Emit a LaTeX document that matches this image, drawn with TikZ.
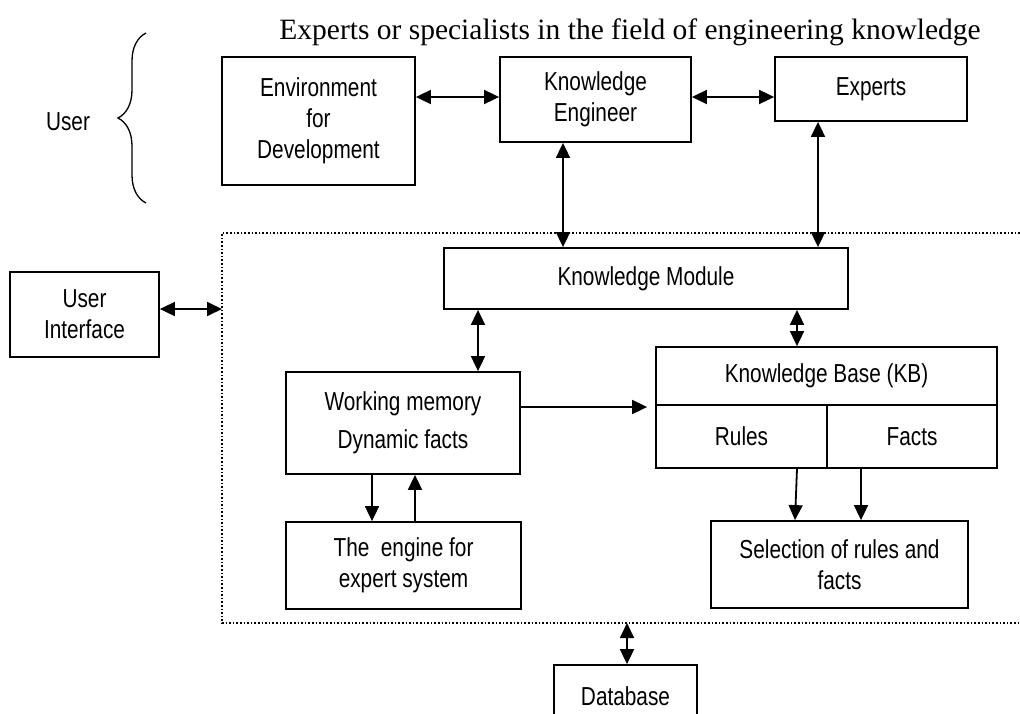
\documentclass[tikz,border=0pt]{standalone}
\usepackage{fontspec}
\setmainfont{Liberation Serif}
\newfontfamily\narrowsans{Liberation Sans}[FakeStretch=0.80]
\usetikzlibrary{arrows.meta,decorations.pathreplacing}
\begin{document}
\begin{tikzpicture}[
  x=1pt, y=-1pt,
  box/.style={rectangle, draw, line width=1.8pt, inner sep=0pt, align=center,
    font=\narrowsans\fontsize{26}{31}\selectfont},
  arr/.style={-{Triangle[length=15pt,width=14pt]}, line width=1.8pt},
  darr/.style={{Triangle[length=15pt,width=14pt]}-{Triangle[length=15pt,width=14pt]}, line width=1.8pt},
  frame/.style={line width=1.6pt, dash pattern=on 1.6pt off 2pt}
]
\useasboundingbox (0,0) rectangle (1020,713);

\node[font=\fontsize{29.5}{34}\selectfont] (title) at (630,32) {Experts or specialists in the field of engineering knowledge};
\node[font=\narrowsans\fontsize{26}{31}\selectfont] (user) at (68,122) {User};
\draw[line width=1.3pt, decorate, decoration={brace, amplitude=28pt}] (146,203) -- (146,33);

\node[box, minimum width=193pt, minimum height=128pt] (env) at (318.5,121) {Environment\\for\\Development};
\node[box, minimum width=191pt, minimum height=85pt] (ke) at (595.5,99.5) {Knowledge\\Engineer};
\node[box, minimum width=192pt, minimum height=64pt] (exp) at (871,89) {Experts};

\node[box, minimum width=404pt, minimum height=61pt] (km) at (646,278.5) {Knowledge Module};
\node[box, minimum width=149pt, minimum height=85pt] (ui) at (84.5,314.5) {User\\Interface};
\node[box, minimum width=234pt, minimum height=102pt, font=\narrowsans\fontsize{26}{38}\selectfont] (wm) at (403,423) {Working memory\\Dynamic facts};
\node[box, minimum width=341pt, minimum height=58pt] (kb) at (826.5,376) {Knowledge Base (KB)};
\node[box, minimum width=171pt, minimum height=63pt] (rules) at (741.5,436.5) {Rules};
\node[box, minimum width=170pt, minimum height=63pt] (facts) at (912,436.5) {Facts};
\node[box, minimum width=235pt, minimum height=87pt] (eng) at (403.5,565.5) {The\ \ engine for\\expert system};
\node[box, minimum width=257pt, minimum height=87pt] (sel) at (839.5,564.5) {Selection of rules and\\facts};
\node[box, minimum width=143pt, minimum height=62pt] (db) at (625.5,696) {Database};

\coordinate (fl) at (222,309);
\coordinate (fb) at (627,623);
\draw[frame] (1020,233) -- (222,233) -- (222,623) -- (1020,623);

\draw[darr] (env.east |- 0,97) -- (ke.west |- 0,97);
\draw[darr] (ke.east |- 0,97) -- (exp.west |- 0,97);
\draw[darr] (563,0 |- ke.south) -- (563,0 |- km.north);
\draw[darr] (818,0 |- exp.south) -- (818,0 |- km.north);
\draw[darr] (ui.east |- fl) -- (fl);
\draw[darr] (478,0 |- km.south) -- (478,0 |- wm.north);
\draw[darr] (797,0 |- km.south) -- (797,0 |- kb.north);
\draw[arr, shorten >=8pt] (wm.east |- 0,407) -- (rules.west |- 0,407);
\draw[arr] (372,0 |- wm.south) -- (372,0 |- eng.north);
\draw[arr] (415,0 |- eng.north) -- (415,0 |- wm.south);
\draw[arr] (797,0 |- rules.south) -- (795,0 |- sel.north);
\draw[arr] (861,0 |- facts.south) -- (861,0 |- sel.north);
\draw[darr] (fb) -- (db.north -| fb);
\end{tikzpicture}
\end{document}
